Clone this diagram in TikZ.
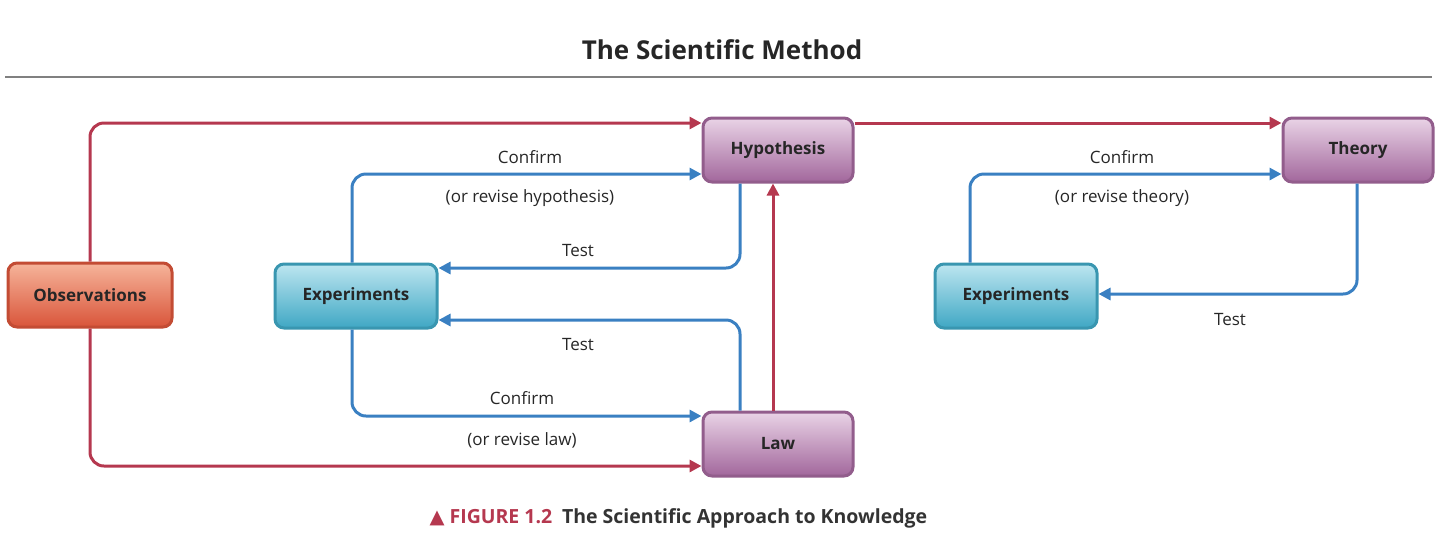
\documentclass[tikz,border=0pt]{standalone}
\usepackage{fontspec}
\setmainfont{Open Sans}
\newfontfamily\symf{DejaVu Sans}
\usetikzlibrary{arrows.meta}
\definecolor{redln}{HTML}{B5384F}
\definecolor{blueln}{HTML}{3A80C2}
\definecolor{obsA}{HTML}{F6B49A}\definecolor{obsB}{HTML}{D9553A}
\definecolor{expA}{HTML}{BDE6F0}\definecolor{expB}{HTML}{3FA7C4}
\definecolor{purA}{HTML}{E9D3E6}\definecolor{purB}{HTML}{A2679C}
\tikzset{
 box/.style={rounded corners=9pt,minimum width=150pt,minimum height=64pt,line width=3pt,font=\fontsize{17}{20}\selectfont\bfseries,text=black!85},
 obs/.style={box,draw=obsB!90!black,top color=obsA,bottom color=obsB,minimum width=164pt},
 expb/.style={box,draw=expB!90!black,top color=expA,bottom color=expB,minimum width=162pt},
 pur/.style={box,draw=purB!90!black,top color=purA,bottom color=purB},
 rl/.style={draw=redln,line width=3pt,rounded corners=14pt,-{Triangle[length=12pt,width=12pt]}},
 bl/.style={draw=blueln,line width=3pt,rounded corners=14pt,-{Triangle[length=12pt,width=12pt]}},
 lab/.style={font=\fontsize{17}{20}\selectfont,text=black!85}
}
\begin{document}
\begin{tikzpicture}[x=1pt,y=-1pt]
\useasboundingbox (0,0) rectangle (1440,550);
\node[font=\fontsize{26}{30}\selectfont\bfseries,text=black!85] (title) at (722,50) {The Scientific Method};
\draw[gray,line width=2pt] (5,77) -- (1432,77);
\node[obs] (obs) at (90,295) {Observations};
\node[expb] (exp1) at (356,296) {Experiments};
\node[pur] (hyp) at (778,150) {Hypothesis};
\node[pur] (law) at (778,444) {Law};
\node[pur] (thy) at (1358,150) {Theory};
\node[expb] (exp2) at (1016,296) {Experiments};
% red
\draw[rl] (obs.north) -- (90,123) -- (hyp.west |- 0,123);
\draw[rl] (obs.south) -- (90,466) -- (law.west |- 0,466);
\draw[rl] (hyp.east |- 0,123) -- (thy.west |- 0,123);
\draw[rl] (law.north -| 773,0) -- (hyp.south -| 773,0);
% blue
\draw[bl] (exp1.north -| 352,0) -- (352,174) -- (hyp.west |- 0,174);
\draw[bl] (hyp.south -| 740,0) -- (740,268) -- (exp1.east |- 0,268);
\draw[bl] (law.north -| 740,0) -- (740,320) -- (exp1.east |- 0,320);
\draw[bl] (exp1.south -| 352,0) -- (352,416) -- (law.west |- 0,416);
\draw[bl] (exp2.north -| 970,0) -- (970,174) -- (thy.west |- 0,174);
\draw[bl] (thy.south -| 1357,0) -- (1357,294) -- (exp2.east |- 0,294);
\node[lab] (l1) at (530,157) {Confirm};
\node[lab] (l2) at (530,198) {(or revise hypothesis)};
\node[lab] (l3) at (578,251) {Test};
\node[lab] (l4) at (578,345) {Test};
\node[lab] (l5) at (522,398) {Confirm};
\node[lab] (l6) at (522,440) {(or revise law)};
\node[lab] (l7) at (1122,157) {Confirm};
\node[lab] (l8) at (1122,198) {(or revise theory)};
\node[lab] (l9) at (1230,320) {Test};
\node[anchor=west,font=\fontsize{19.5}{22}\selectfont\bfseries] (cap) at (426,518) {\textcolor{redln}{{\symf ▲} FIGURE 1.2}\enspace\textcolor{black!80}{The Scientific Approach to Knowledge}};
\end{tikzpicture}
\end{document}
